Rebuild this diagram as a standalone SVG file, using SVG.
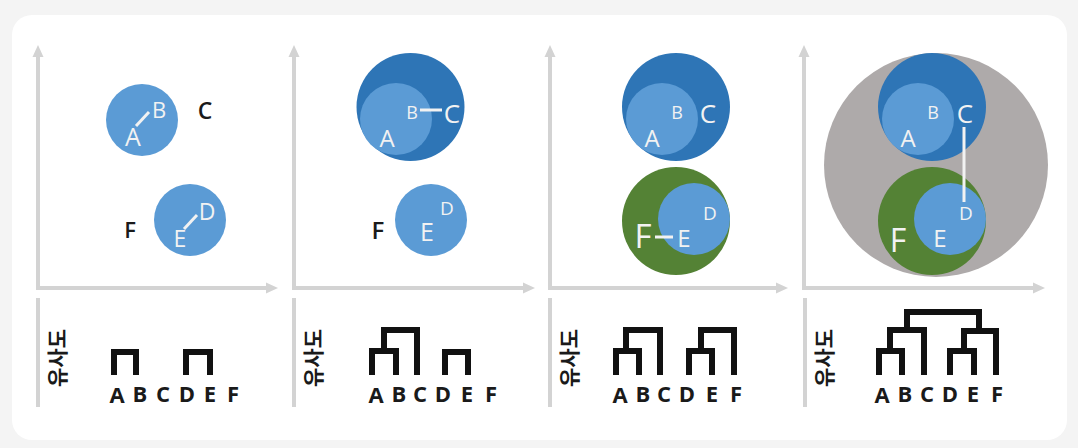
<svg xmlns="http://www.w3.org/2000/svg" width="1078" height="448" viewBox="0 0 1078 448">
<defs>
<style>
.ax{stroke:#d3d3d3;stroke-width:4;fill:none}
.ah{fill:#d3d3d3}
.lb{fill:#5b9bd5}
.db{fill:#2e75b6}
.gr{fill:#548235}
.gy{fill:#aeaaaa}
.wt{font-family:"Open Sans","Noto Sans",sans-serif;fill:#f2f2f2;text-anchor:middle}
.bk{font-family:"Open Sans","Noto Sans",sans-serif;font-weight:600;fill:#1a1a1a;text-anchor:middle}
.wl{stroke:#f2f2f2;stroke-width:3;fill:none}
.dg{stroke:#111;stroke-width:6;fill:none;stroke-linejoin:miter;stroke-linecap:butt}
.lt{font-family:"Open Sans","Noto Sans",sans-serif;font-weight:bold;font-size:22px;fill:#1a1a1a;text-anchor:middle}
.ko{font-family:"Noto Sans CJK KR","Noto Sans",sans-serif;font-weight:bold;font-size:21px;fill:#1a1a1a;text-anchor:middle;dominant-baseline:central}
</style>
</defs>
<rect width="1078" height="448" fill="#f4f4f4"/>
<rect x="12" y="15" width="1055" height="425" rx="20" fill="#ffffff"/>

<g id="axes">
<path class="ax" d="M38 57V288H266"/><polygon class="ah" points="38,45 32.5,57 43.5,57"/><polygon class="ah" points="278,288 266,282.5 266,293.5"/>
<path class="ax" d="M294 57V288H523"/><polygon class="ah" points="294,45 288.5,57 299.5,57"/><polygon class="ah" points="535,288 523,282.5 523,293.5"/>
<path class="ax" d="M550 57V288H776"/><polygon class="ah" points="550,45 544.5,57 555.5,57"/><polygon class="ah" points="788,288 776,282.5 776,293.5"/>
<path class="ax" d="M804 57V288H1033"/><polygon class="ah" points="804,45 798.5,57 809.5,57"/><polygon class="ah" points="1045,288 1033,282.5 1033,293.5"/>
<path class="ax" d="M38 298V407M294 298V407M550 298V407M805 298V407"/>
</g>

<g id="panel1">
<circle class="lb" cx="142" cy="120" r="36"/>
<circle class="lb" cx="190" cy="220" r="36"/>
<line class="wl" x1="136" y1="126" x2="149" y2="112"/>
<line class="wl" x1="184" y1="229" x2="197" y2="215"/>
<text class="wt" x="159" y="118" font-size="22">B</text>
<text class="wt" x="133" y="146" font-size="25">A</text>
<text class="bk" x="205" y="119" font-size="23">C</text>
<text class="bk" x="130" y="238" font-size="22">F</text>
<text class="wt" x="207" y="220" font-size="23">D</text>
<text class="wt" x="180" y="247" font-size="23">E</text>
</g>

<g id="panel2">
<circle class="db" cx="410.5" cy="107" r="54"/>
<circle class="lb" cx="396" cy="119" r="36"/>
<circle class="lb" cx="431" cy="220" r="36"/>
<line class="wl" x1="420" y1="110" x2="442" y2="110"/>
<text class="wt" x="412" y="119" font-size="18">B</text>
<text class="wt" x="452" y="123" font-size="26">C</text>
<text class="wt" x="387" y="147" font-size="24">A</text>
<text class="wt" x="447" y="215" font-size="19">D</text>
<text class="wt" x="427" y="241" font-size="25">E</text>
<text class="bk" x="378" y="239" font-size="24">F</text>
</g>

<g id="panel3">
<circle class="db" cx="676" cy="107" r="54"/>
<circle class="lb" cx="662" cy="119" r="36"/>
<circle class="gr" cx="676" cy="221" r="54"/>
<circle class="lb" cx="694" cy="219" r="36"/>
<line class="wl" x1="655" y1="237" x2="673" y2="237"/>
<text class="wt" x="677" y="119" font-size="18">B</text>
<text class="wt" x="708" y="123" font-size="26">C</text>
<text class="wt" x="652" y="147" font-size="24">A</text>
<text class="wt" x="710" y="220" font-size="19">D</text>
<text class="wt" x="684" y="247" font-size="24">E</text>
<text class="wt" x="643" y="248" font-size="33">F</text>
</g>

<g id="panel4">
<circle class="gy" cx="936" cy="165" r="112"/>
<circle class="db" cx="932" cy="107" r="54"/>
<circle class="lb" cx="918" cy="119" r="36"/>
<circle class="gr" cx="932" cy="221" r="54"/>
<circle class="lb" cx="950" cy="219" r="36"/>
<line class="wl" x1="964" y1="127" x2="964" y2="202"/>
<text class="wt" x="933" y="119" font-size="18">B</text>
<text class="wt" x="965" y="123" font-size="26">C</text>
<text class="wt" x="908" y="147" font-size="24">A</text>
<text class="wt" x="966" y="220" font-size="19">D</text>
<text class="wt" x="940" y="247" font-size="24">E</text>
<text class="wt" x="898" y="252" font-size="32">F</text>
</g>

<g id="dendrograms">
<path class="dg" d="M114 375V352H136V375M186 375V352H210V375"/>
<path class="dg" d="M372 375V351H396V375M384 351V330H417V375M445 375V352H468V375"/>
<path class="dg" d="M616 375V351H639V375M626 351V330H660V375M689 375V351H712V375M701 351V330H734V375"/>
<path class="dg" d="M879 375V351H902V375M890 351V330H924V375M950 375V351H974V375M964 351V331H996V375M907 330V312H979V331"/>
</g>

<g id="labels">
<text class="ko" transform="translate(56,358) rotate(-90)">유사도</text>
<text class="ko" transform="translate(312,358) rotate(-90)">유사도</text>
<text class="ko" transform="translate(568,358) rotate(-90)">유사도</text>
<text class="ko" transform="translate(823,358) rotate(-90)">유사도</text>
<g class="lt">
<text x="117" y="403">A</text><text x="140" y="402">B</text><text x="163" y="402">C</text><text x="187" y="402">D</text><text x="210" y="402">E</text><text x="233" y="402">F</text>
<text x="376" y="403">A</text><text x="399" y="402">B</text><text x="420" y="402">C</text><text x="443" y="402">D</text><text x="467" y="402">E</text><text x="491" y="402">F</text>
<text x="620" y="403">A</text><text x="643" y="402">B</text><text x="664" y="402">C</text><text x="687" y="402">D</text><text x="712" y="402">E</text><text x="736" y="402">F</text>
<text x="882" y="403">A</text><text x="905" y="402">B</text><text x="927" y="402">C</text><text x="950" y="402">D</text><text x="973" y="402">E</text><text x="997" y="402">F</text>
</g>
</g>
</svg>
